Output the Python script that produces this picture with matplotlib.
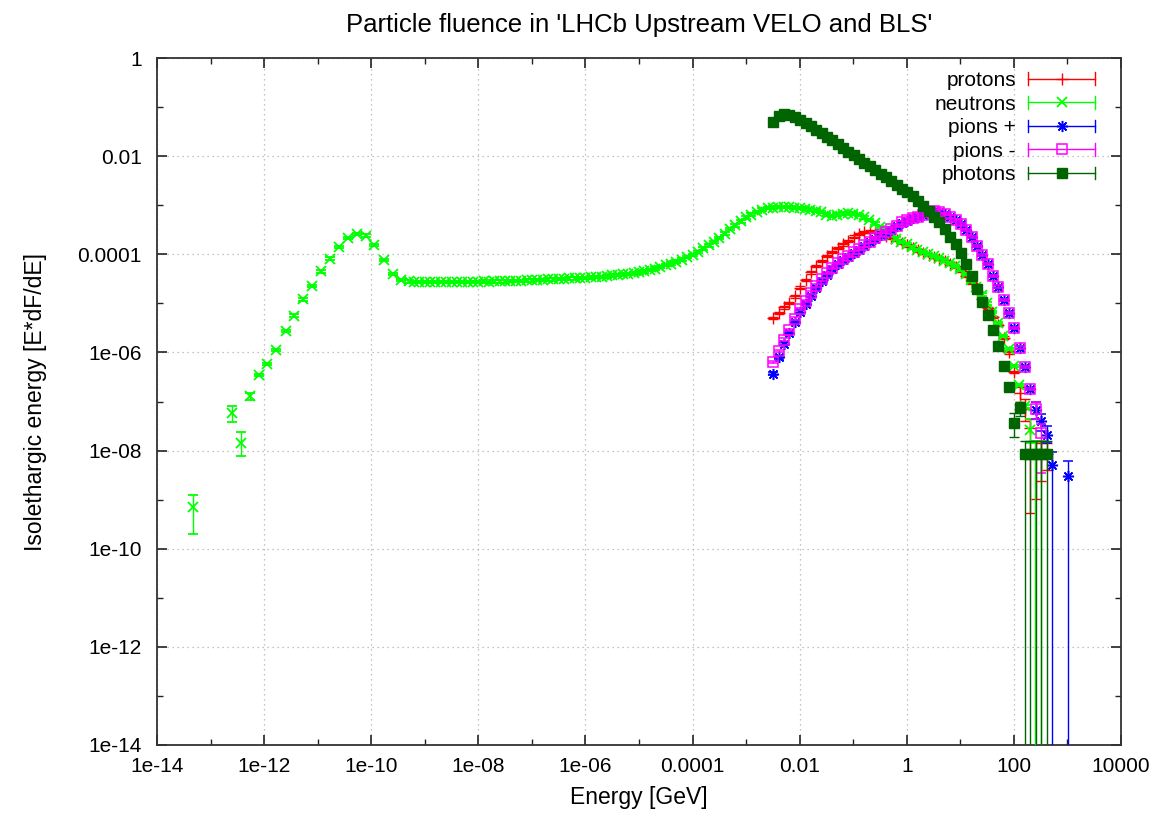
import numpy as np
import matplotlib
matplotlib.use("Agg")
import matplotlib.pyplot as plt
from matplotlib.lines import Line2D
from matplotlib.legend_handler import HandlerBase
from matplotlib.ticker import FixedLocator, FixedFormatter, NullFormatter

plt.rcParams['font.family'] = ['Liberation Sans', 'DejaVu Sans']

# ---------------- data (log10 values) ----------------
title = "Particle fluence in 'LHCb Upstream VELO and BLS'"
xlabel = "Energy [GeV]"
ylabel = "Isolethargic energy [E*dF/dE]"
series_labels = ["protons", "neutrons", "pions +", "pions -", "photons"]

x_major_exp = [-14, -12, -10, -8, -6, -4, -2, 0, 2, 4]
x_tick_labels = ["1e-14", "1e-12", "1e-10", "1e-08", "1e-06", "0.0001", "0.01", "1", "100", "10000"]
y_major_exp = [-14, -12, -10, -8, -6, -4, -2, 0]
y_tick_labels = ["1e-14", "1e-12", "1e-10", "1e-08", "1e-06", "0.0001", "0.01", "1"]

# neutrons
n_logE = [-13.33, -12.60, -12.44, -12.27, -12.10, -11.94, -11.77, -11.60, -11.44, -11.27,
          -11.10, -10.94, -10.77, -10.60, -10.44, -10.27, -10.10, -9.94, -9.77, -9.60, -9.44,
          -9.3, -9.2, -9.1, -9.0, -8.9, -8.8, -8.7, -8.6, -8.5, -8.4,
          -8.3, -8.2, -8.1, -8.0, -7.9, -7.8, -7.7, -7.6, -7.5, -7.4,
          -7.3, -7.2, -7.1, -7.0, -6.9, -6.8, -6.7, -6.6, -6.5, -6.4,
          -6.3, -6.2, -6.1, -6.0, -5.9, -5.8, -5.7, -5.6, -5.5, -5.4,
          -5.3, -5.2, -5.1, -5.0, -4.9, -4.8, -4.7, -4.6, -4.5, -4.4,
          -4.3, -4.2, -4.1, -4.0, -3.9, -3.8, -3.7, -3.6, -3.5, -3.4,
          -3.3, -3.2, -3.1, -3.0, -2.9, -2.8, -2.7, -2.6, -2.5, -2.4,
          -2.3, -2.2, -2.1, -2.0, -1.9, -1.8, -1.7, -1.6, -1.5, -1.4,
          -1.3, -1.2, -1.1, -1.0, -0.9, -0.8, -0.7, -0.6, -0.5, -0.4,
          -0.3, -0.2, -0.1, 0.0, 0.1, 0.2, 0.3, 0.4, 0.5, 0.6,
          0.7, 0.8, 0.9, 1.0, 1.1, 1.2, 1.3, 1.4, 1.5, 1.6,
          1.7, 1.8, 1.9, 2.0, 2.1, 2.2, 2.3, 2.4, 2.5]
n_logY = [-9.14, -7.24, -7.84, -6.89, -6.46, -6.24, -5.95, -5.56, -5.25, -4.92,
          -4.65, -4.35, -4.09, -3.85, -3.67, -3.59, -3.62, -3.81, -4.12, -4.40, -4.52,
          -4.55, -4.56, -4.56, -4.57, -4.57, -4.57, -4.57, -4.56, -4.57, -4.56,
          -4.56, -4.56, -4.56, -4.56, -4.55, -4.56, -4.55, -4.55, -4.55, -4.54,
          -4.54, -4.54, -4.53, -4.53, -4.52, -4.52, -4.51, -4.51, -4.50, -4.50,
          -4.49, -4.49, -4.48, -4.48, -4.47, -4.46, -4.46, -4.45, -4.43, -4.42,
          -4.41, -4.40, -4.39, -4.37, -4.35, -4.32, -4.29, -4.26, -4.22, -4.19,
          -4.15, -4.11, -4.06, -4.01, -3.95, -3.88, -3.82, -3.75, -3.67, -3.58,
          -3.49, -3.41, -3.33, -3.25, -3.19, -3.14, -3.09, -3.06, -3.05, -3.04,
          -3.04, -3.04, -3.05, -3.06, -3.07, -3.09, -3.11, -3.14, -3.19, -3.22,
          -3.19, -3.17, -3.16, -3.17, -3.20, -3.25, -3.30, -3.37, -3.44, -3.52,
          -3.60, -3.68, -3.75, -3.80, -3.86, -3.91, -3.95, -3.99, -4.04, -4.08,
          -4.13, -4.18, -4.24, -4.31, -4.40, -4.53, -4.67, -4.82, -5.00, -5.18,
          -5.40, -5.66, -5.93, -6.28, -6.66, -7.10, -7.58, -8.07, -8.07]
n_bar_logE = [-13.33, -12.60, -12.44, -12.27, 2.3, 2.4, 2.5]
n_bar_lo = [-9.70, -7.42, -8.12, -6.97, -7.85, -15.0, -15.0]
n_bar_hi = [-8.90, -7.10, -7.63, -6.83, -7.35, -7.80, -7.80]

# energy bins shared by protons, pions and photons
hi_logE = [-2.49, -2.39, -2.29, -2.19, -2.09, -1.99, -1.89, -1.79, -1.69, -1.59,
           -1.49, -1.39, -1.29, -1.19, -1.09, -0.99, -0.89, -0.79, -0.69, -0.59,
           -0.49, -0.39, -0.29, -0.19, -0.09, 0.01, 0.11, 0.21, 0.31, 0.41,
           0.51, 0.61, 0.71, 0.81, 0.91, 1.01, 1.11, 1.21, 1.31, 1.41,
           1.51, 1.61, 1.71, 1.81, 1.91, 2.01, 2.11, 2.21, 2.31, 2.41,
           2.51, 2.61]

ph_logY = [-1.30, -1.18, -1.14, -1.16, -1.20, -1.26, -1.32, -1.39, -1.46, -1.53,
           -1.61, -1.68, -1.76, -1.83, -1.91, -1.98, -2.06, -2.13, -2.21, -2.28,
           -2.36, -2.43, -2.51, -2.59, -2.66, -2.74, -2.82, -2.91, -3.01, -3.12,
           -3.23, -3.35, -3.49, -3.64, -3.80, -3.97, -4.20, -4.44, -4.70, -4.97,
           -5.24, -5.54, -5.87, -6.28, -6.71, -7.44, -7.14, -8.07, -8.07, -8.07,
           -8.07, -8.07]
ph_bar_logE = [2.01, 2.11, 2.21, 2.31, 2.41, 2.51, 2.61]
ph_bar_lo = [-7.72, -7.30, -15.0, -15.0, -15.0, -15.0, -15.0]
ph_bar_hi = [-7.24, -7.00, -7.80, -7.80, -7.80, -7.80, -7.80]

p_logY = [-5.30, -5.20, -5.08, -4.99, -4.86, -4.68, -4.52, -4.37, -4.24, -4.14,
          -4.04, -3.95, -3.87, -3.80, -3.73, -3.64, -3.59, -3.55, -3.54, -3.55,
          -3.58, -3.62, -3.66, -3.71, -3.77, -3.82, -3.87, -3.92, -3.97, -4.01,
          -4.05, -4.09, -4.14, -4.19, -4.26, -4.34, -4.44, -4.58, -4.74, -4.92,
          -5.10, -5.28, -5.44, -5.70, -6.00, -6.40, -6.83, -7.15, -7.55, -8.07,
          -8.07, -8.07]
p_bar_logE = [2.11, 2.21, 2.31, 2.41, 2.51, 2.61]
p_bar_lo = [-7.00, -7.40, -9.27, -8.99, -8.63, -8.40]
p_bar_hi = [-6.70, -6.95, -7.35, -7.80, -7.85, -7.85]

pim_logY = [-6.19, -5.97, -5.74, -5.54, -5.31, -5.11, -4.95, -4.78, -4.64, -4.51,
            -4.38, -4.27, -4.18, -4.10, -4.03, -3.96, -3.89, -3.82, -3.74, -3.67,
            -3.60, -3.55, -3.49, -3.42, -3.35, -3.31, -3.27, -3.23, -3.19, -3.13,
            -3.11, -3.13, -3.18, -3.23, -3.30, -3.39, -3.51, -3.65, -3.83, -4.01,
            -4.20, -4.44, -4.66, -4.93, -5.20, -5.50, -5.90, -6.30, -6.75, -7.15,
            -7.65]
pim_bar_logE = [2.41, 2.51]
pim_bar_lo = [-7.35, -8.45]
pim_bar_hi = [-7.00, -7.45]

pip_logY = [-6.43, -6.10, -5.82, -5.60, -5.38, -5.17, -5.01, -4.84, -4.69, -4.55,
            -4.42, -4.30, -4.20, -4.12, -4.05, -3.98, -3.91, -3.83, -3.75, -3.68,
            -3.61, -3.56, -3.50, -3.43, -3.36, -3.32, -3.27, -3.23, -3.19, -3.13,
            -3.11, -3.13, -3.18, -3.23, -3.30, -3.39, -3.51, -3.65, -3.83, -4.01,
            -4.20, -4.44, -4.66, -4.93, -5.20, -5.50, -5.90, -6.30, -6.75, -7.17,
            -7.40, -7.68]
pip_extra_logE = [2.71, 3.01]
pip_extra_logY = [-8.29, -8.51]
pip_bar_logE = [2.41, 2.51, 2.61, 2.71, 3.01]
pip_bar_lo = [-7.35, -7.60, -7.85, -15.0, -15.0]
pip_bar_hi = [-7.02, -7.25, -7.50, -8.02, -8.21]

stat_dex = 0.025  # typical small statistical error (dex)

# ---------------- plotting ----------------
W, H = 1166, 814
fig = plt.figure(figsize=(W / 100, H / 100), dpi=100)
L, R, T, B = 157, 1121, 58, 745
ax = fig.add_axes([L / W, 1 - B / H, (R - L) / W, (B - T) / H])


def build(logE, logY, bar_logE, bar_lo, bar_hi):
    logE = np.asarray(logE, float)
    logY = np.asarray(logY, float)
    lo = logY - stat_dex
    hi = logY + stat_dex
    for e, l, h in zip(bar_logE, bar_lo, bar_hi):
        idx = np.where(np.isclose(logE, e))[0]
        lo[idx] = l
        hi[idx] = h
    E = 10 ** logE
    Y = 10 ** logY
    return E, Y, np.vstack([Y - 10 ** lo, 10 ** hi - Y])


styles = [
    dict(color='#ff0000', marker='+', ms=8, mfc='#ff0000', mew=1.0),
    dict(color='#00ff00', marker='x', ms=7.5, mfc='#00ff00', mew=1.3),
    dict(color='#0000ff', marker=(8, 2, 0), ms=8, mfc='#0000ff', mew=1.1),
    dict(color='#ff00ff', marker='s', ms=7.5, mfc='none', mew=1.1),
    dict(color='#006400', marker='s', ms=7.8, mfc='#006400', mew=1.0),
]

data = [
    build(hi_logE, p_logY, p_bar_logE, p_bar_lo, p_bar_hi),
    build(n_logE, n_logY, n_bar_logE, n_bar_lo, n_bar_hi),
    build(hi_logE + pip_extra_logE, pip_logY + pip_extra_logY, pip_bar_logE, pip_bar_lo, pip_bar_hi),
    build(hi_logE[:len(pim_logY)], pim_logY, pim_bar_logE, pim_bar_lo, pim_bar_hi),
    build(hi_logE, ph_logY, ph_bar_logE, ph_bar_lo, ph_bar_hi),
]

for z, ((E, Y, yerr), st) in enumerate(zip(data, styles)):
    ax.errorbar(E, Y, yerr=yerr, ls='none', color=st['color'], marker=st['marker'],
                ms=st['ms'], mfc=st['mfc'], mec=st['color'], mew=st['mew'],
                elinewidth=1.0, capsize=3.5, capthick=1.0, zorder=3 + z)

ax.set_xscale('log')
ax.set_yscale('log')
ax.set_xlim(1e-14, 1e4)
ax.set_ylim(1e-14, 1)

ax.xaxis.set_major_locator(FixedLocator([10.0 ** e for e in x_major_exp]))
ax.xaxis.set_major_formatter(FixedFormatter(x_tick_labels))
ax.xaxis.set_minor_locator(FixedLocator([10.0 ** e for e in range(-13, 4, 2)]))
ax.xaxis.set_minor_formatter(NullFormatter())
ax.yaxis.set_major_locator(FixedLocator([10.0 ** e for e in y_major_exp]))
ax.yaxis.set_major_formatter(FixedFormatter(y_tick_labels))
ax.yaxis.set_minor_locator(FixedLocator([10.0 ** e for e in range(-13, 0, 2)]))
ax.yaxis.set_minor_formatter(NullFormatter())

ax.tick_params(which='both', direction='in', top=True, right=True, colors='#222222',
               labelcolor='black', labelsize=15)
ax.tick_params(which='major', length=7, width=1.2)
ax.tick_params(which='minor', length=4, width=1.0)
ax.tick_params(axis='x', which='major', pad=9)
ax.tick_params(axis='y', which='major', pad=11)
for s in ax.spines.values():
    s.set_linewidth(1.3)
    s.set_color('#333333')

ax.grid(True, which='major', color='#b0b0b0', linestyle=(0, (1, 3)), linewidth=0.9)
ax.set_axisbelow(True)

ax.set_title(title, fontsize=18.5, pad=19)
ax.set_xlabel(xlabel, fontsize=16.5, labelpad=7)
ax.set_ylabel(ylabel, fontsize=16.5, labelpad=22)


class HandlerGP(HandlerBase):
    def create_artists(self, legend, orig_handle, xdescent, ydescent, width, height,
                       fontsize, trans):
        c = orig_handle.get_color()
        y = height / 2 - ydescent
        x0, x1 = -xdescent, -xdescent + width
        cap = 4.5
        arts = [Line2D([x0, x1], [y, y], color=c, lw=1.0),
                Line2D([x0, x0], [y - cap, y + cap], color=c, lw=1.0),
                Line2D([x1, x1], [y - cap, y + cap], color=c, lw=1.0),
                Line2D([(x0 + x1) / 2], [y], ls='none', marker=orig_handle.get_marker(),
                       ms=orig_handle.get_markersize(), mfc=orig_handle.get_markerfacecolor(),
                       mec=c, mew=orig_handle.get_markeredgewidth())]
        for a in arts:
            a.set_transform(trans)
        return arts


handles = [Line2D([], [], color=st['color'], marker=st['marker'], ms=st['ms'],
                  mfc=st['mfc'], mew=st['mew']) for st in styles]
leg = ax.legend(handles, series_labels, loc='upper right',
                bbox_to_anchor=((1095 - L) / (R - L), 1 - (71 - T) / (B - T)),
                frameon=False, markerfirst=False, fontsize=15, handlelength=3.2,
                handletextpad=0.6, labelspacing=0.22, borderpad=0, borderaxespad=0,
                handler_map={Line2D: HandlerGP()})
for t in leg.get_texts():
    t.set_ha('right')

fig.savefig("out.png", dpi=100)
